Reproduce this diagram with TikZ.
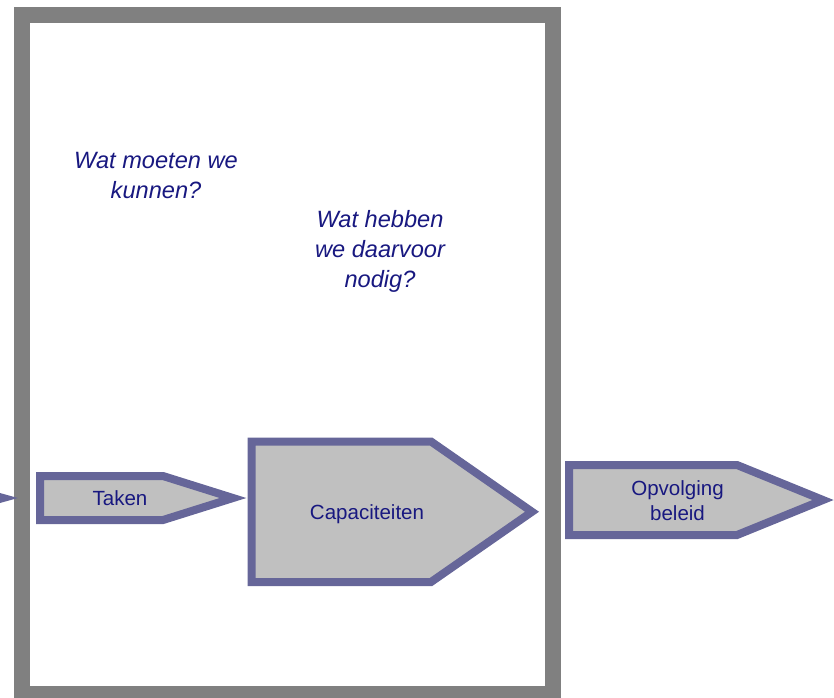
\documentclass[tikz,border=0pt]{standalone}
\usepackage{fontspec}
\setmainfont{Liberation Sans}
\definecolor{framegray}{RGB}{128,128,128}
\definecolor{arrowline}{RGB}{102,102,153}
\definecolor{arrowfill}{RGB}{192,192,192}
\definecolor{txtblue}{RGB}{24,24,128}
\tikzset{
  frame/.style={draw=framegray, line width=12pt, miter limit=10},
  arrowshape/.style={draw=arrowline, fill=arrowfill, line width=6pt, line join=miter, miter limit=20},
  lbl/.style={text=txtblue, font=\fontsize{15.4pt}{18.75pt}\selectfont, align=center, inner sep=0pt},
  question/.style={text=txtblue, font=\fontsize{17.7pt}{22.5pt}\selectfont\itshape, align=center, inner sep=0pt}
}
\begin{document}
\begin{tikzpicture}[x=0.75pt, y=-0.75pt]
\useasboundingbox (0,0) rectangle (834,697);
\clip (0,0) rectangle (834,697);
% outer frame
\draw[frame] (22,15) rectangle (553,694);
% previous arrow, only tip visible
\draw[arrowshape] (-160,476) -- (-76,476) -- (3,498) -- (-76,520) -- (-160,520) -- cycle;
% Taken
\draw[arrowshape] (40,476) -- (163,476) -- (233,498) -- (163,520) -- (40,520) -- cycle;
\node[lbl] (taken) at (120,498) {Taken};
% Capaciteiten
\draw[arrowshape] (251.5,441.5) -- (431,441.5) -- (532,511.75) -- (431,582) -- (251.5,582) -- cycle;
\node[lbl] (cap) at (367,514) {Capaciteiten};
% Opvolging beleid
\draw[arrowshape] (569,465) -- (737,465) -- (823,500) -- (737,535) -- (569,535) -- cycle;
\node[lbl] (opv) at (677.5,500.5) {Opvolging\\beleid};
% questions
\node[question] (q1) at (156,175) {Wat moeten we\\kunnen?};
\node[question] (q2) at (380,251.5) {Wat hebben\\we daarvoor\\nodig?};
\end{tikzpicture}
\end{document}
